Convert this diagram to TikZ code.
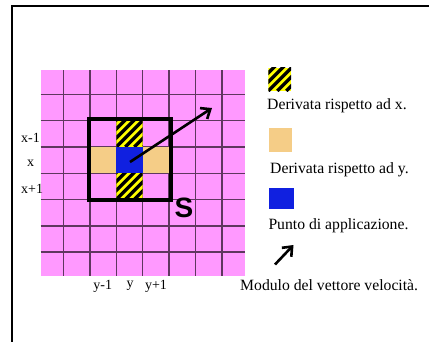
\documentclass[tikz,border=0pt]{standalone}
\usepackage{fontspec}
\setmainfont{Liberation Serif}
\newfontfamily\sfont{Liberation Sans}
\usetikzlibrary{arrows.meta}
\definecolor{pinkc}{RGB}{255,153,255}
\definecolor{beigec}{RGB}{245,205,135}
\definecolor{bluec}{RGB}{16,32,224}
\definecolor{gridc}{RGB}{95,55,95}
\definecolor{hyel}{RGB}{255,255,0}
\tikzset{
  gridline/.style={draw=gridc, line width=1.4pt},
  lbl/.style={font=\fontsize{14}{14}\selectfont, inner sep=0pt},
  legtext/.style={font=\fontsize{15.7}{15.7}\selectfont, inner sep=0pt, anchor=west},
  vecarrow/.style={line width=2.6pt, -{Straight Barb[length=8pt, width=13pt, line width=2.6pt]}},
}
\newcommand{\hatchsq}[4]{%
  \begin{scope}
    \clip (#1,#2) rectangle (#3,#4);
    \fill[hyel] (#1,#2) rectangle (#3,#4);
    \foreach \k in {-45,-36,...,45} {
      \draw[black, line width=3.4pt] ({#1+\k},#4) -- ({#1+\k+45},{#4-45});
    }
  \end{scope}}
\begin{document}
\begin{tikzpicture}[x=1pt, y=-1pt]
\useasboundingbox (0,0) rectangle (429,341);
\fill[white] (0,0) rectangle (429,341);
% frame
\draw[line width=1.8pt] (12,345) -- (12,6) -- (432,6);
% pink board
\fill[pinkc] (40.7,70) rectangle (245,276);
% grid
\foreach \i in {0,...,6} {
  \draw[gridline] ({63.5+26.4*\i},70) -- ({63.5+26.4*\i},276);
  \draw[gridline] (40.7,{94.3+26.3*\i}) -- (245,{94.3+26.3*\i});
}
% coloured cells
\fill[beigec] (89.9,146.9) rectangle (116.3,173.2);
\fill[beigec] (142.7,146.9) rectangle (169.1,173.2);
\fill[bluec] (116.3,146.9) rectangle (142.7,173.2);
\hatchsq{116.3}{120.6}{142.7}{146.9}
\hatchsq{116.3}{173.2}{142.7}{199.5}
% square S
\draw[line width=3.2pt] (89,119) rectangle (171,200);
\node[font=\sfont\bfseries\fontsize{28}{28}\selectfont, inner sep=0pt] (S) at (184,208) {S};
% velocity vector
\coordinate (p0) at (130,162);
\coordinate (p1) at (212,108);
\draw[vecarrow] (p0) -- (p1);
% row / column labels
\node[lbl, anchor=west] (xm) at (21,137.7) {x-1};
\node[lbl] (x0) at (30.7,163) {x};
\node[lbl, anchor=west] (xp) at (21,189.3) {x+1};
\node[lbl] (ym) at (102.7,286.7) {y-1};
\node[lbl] (y0) at (130,285.5) {y};
\node[lbl] (yp) at (156,286.7) {y+1};
% legend
\hatchsq{268.3}{67.7}{291}{91}
\node[legtext] (l1) at (267,106) {Derivata rispetto ad x.};
\fill[beigec] (269.3,128.3) rectangle (292,152.3);
\node[legtext] (l2) at (270,169.3) {Derivata rispetto ad y.};
\fill[bluec] (269.3,188.3) rectangle (293.7,209.3);
\node[legtext] (l3) at (268.3,226) {Punto di applicazione.};
\coordinate (a0) at (275,264.5);
\coordinate (a1) at (293.5,245);
\draw[vecarrow] (a0) -- (a1);
\node[legtext] (l4) at (240,285) {Modulo del vettore velocità.};
\end{tikzpicture}
\end{document}
